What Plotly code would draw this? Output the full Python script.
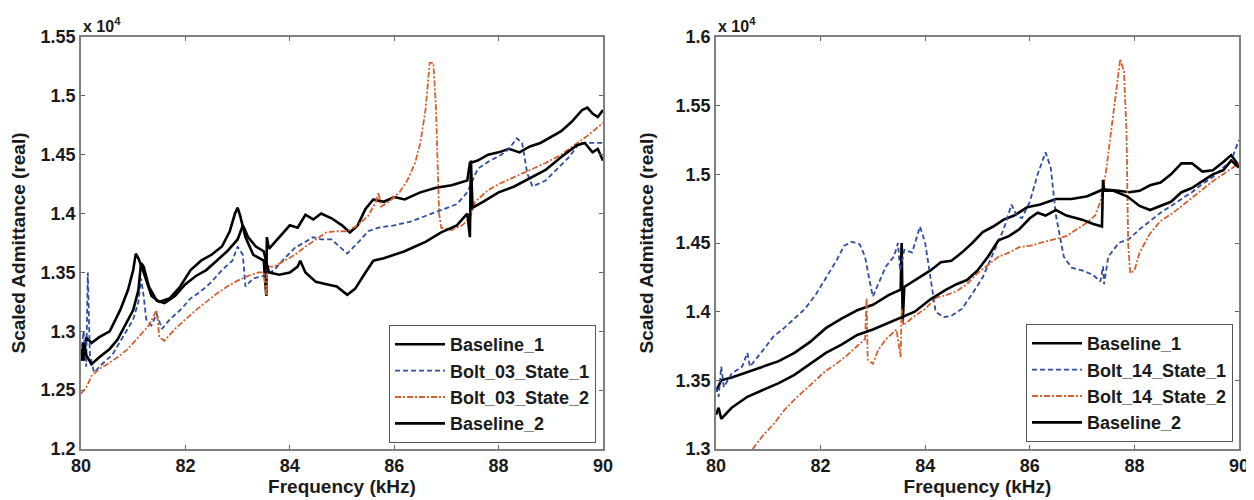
import plotly.graph_objects as go

# ---------------- Left panel (Bolt 03) : values in units of 1e4 ----------------
L_b1_f = [80.0, 80.05, 80.1, 80.2, 80.35, 80.55, 80.75, 80.9, 81.0, 81.05, 81.1, 81.2, 81.35, 81.5,
          81.7, 81.9, 82.1, 82.3, 82.5, 82.7, 82.85, 82.95, 83.0, 83.05, 83.15, 83.3, 83.5, 83.55,
          83.56, 83.6, 83.8, 84.0, 84.15, 84.3, 84.45, 84.6, 84.8, 85.0, 85.15, 85.3, 85.45, 85.6,
          85.8, 86.0, 86.2, 86.5, 86.8, 87.1, 87.4, 87.45, 87.6, 87.8, 88.0, 88.2, 88.4, 88.6, 88.8,
          89.0, 89.2, 89.4, 89.6, 89.7, 89.8, 89.9, 90.0]
L_b1_v = [1.285, 1.275, 1.295, 1.29, 1.295, 1.30, 1.318, 1.335, 1.352, 1.366, 1.362, 1.35, 1.33, 1.325,
          1.328, 1.338, 1.352, 1.36, 1.365, 1.372, 1.385, 1.40, 1.405, 1.398, 1.38, 1.365, 1.36, 1.33,
          1.38, 1.37, 1.38, 1.39, 1.388, 1.399, 1.395, 1.40, 1.396, 1.39, 1.384, 1.39, 1.404, 1.412,
          1.41, 1.414, 1.412, 1.418, 1.422, 1.424, 1.428, 1.443, 1.445, 1.45, 1.452, 1.455, 1.452, 1.457, 1.46,
          1.465, 1.47, 1.478, 1.488, 1.49, 1.485, 1.482, 1.488]

L_s1_f = [80.0, 80.05, 80.1, 80.13, 80.17, 80.25, 80.4, 80.6, 80.8, 81.0, 81.1, 81.15, 81.2, 81.25,
          81.35, 81.45, 81.55, 81.7, 81.9, 82.1, 82.3, 82.5, 82.7, 82.9, 83.0, 83.1, 83.15, 83.3,
          83.5, 83.7, 83.9, 84.1, 84.3, 84.45, 84.6, 84.8, 85.0, 85.1, 85.3, 85.5, 85.7, 86.0, 86.3,
          86.6, 86.9, 87.2, 87.4, 87.6, 87.8, 88.05, 88.2, 88.35, 88.45, 88.55, 88.65, 88.9, 89.1,
          89.35, 89.55, 89.8, 90.0]
L_s1_v = [1.28, 1.30, 1.27, 1.35, 1.28, 1.265, 1.272, 1.28, 1.295, 1.31, 1.325, 1.345, 1.33, 1.31,
          1.305, 1.315, 1.302, 1.31, 1.318, 1.328, 1.334, 1.342, 1.352, 1.36, 1.372, 1.365, 1.338, 1.345,
          1.347, 1.352, 1.362, 1.371, 1.376, 1.38, 1.378, 1.378, 1.37, 1.366, 1.375, 1.385, 1.388, 1.39, 1.393,
          1.398, 1.403, 1.408, 1.418, 1.438, 1.444, 1.45, 1.455, 1.464, 1.46, 1.434, 1.423, 1.428, 1.437,
          1.448, 1.46, 1.46, 1.46]

L_s2_f = [80.0, 80.1, 80.2, 80.35, 80.5, 80.7, 80.9, 81.1, 81.3, 81.45, 81.5, 81.6, 81.8, 82.0, 82.2,
          82.4, 82.6, 82.8, 83.0, 83.2, 83.4, 83.5, 83.55, 83.57, 83.7, 83.9, 84.1, 84.3, 84.5, 84.7,
          84.9, 85.1, 85.3, 85.5, 85.65, 85.7, 85.75, 85.9, 86.1, 86.25, 86.4, 86.5, 86.6, 86.68, 86.75,
          86.8, 86.86, 86.9, 87.1, 87.3, 87.45, 87.55, 87.8, 88.0, 88.3, 88.6, 88.9, 89.2, 89.5, 89.7, 90.0]
L_s2_v = [1.247, 1.252, 1.262, 1.268, 1.272, 1.278, 1.285, 1.295, 1.305, 1.318, 1.295, 1.292, 1.302, 1.31, 1.318,
          1.325, 1.332, 1.338, 1.343, 1.347, 1.35, 1.35, 1.33, 1.355, 1.355, 1.36, 1.365, 1.372, 1.378, 1.384,
          1.385, 1.385, 1.39, 1.398, 1.41, 1.418, 1.406, 1.41, 1.418, 1.428, 1.443, 1.46, 1.488, 1.528, 1.528,
          1.49, 1.40, 1.388, 1.386, 1.39, 1.396, 1.41, 1.42, 1.425, 1.431, 1.437, 1.443, 1.45, 1.46, 1.466, 1.477]

L_b2_f = [80.0, 80.05, 80.1, 80.2, 80.35, 80.55, 80.7, 80.85, 81.0, 81.1, 81.15, 81.2, 81.3, 81.45,
          81.6, 81.8, 82.0, 82.2, 82.4, 82.6, 82.8, 83.0, 83.1, 83.2, 83.35, 83.5, 83.6, 83.8, 84.0,
          84.15, 84.2, 84.3, 84.5, 84.7, 84.9, 85.1, 85.25, 85.45, 85.6, 85.8, 86.0, 86.2, 86.4, 86.6,
          86.9, 87.2, 87.4, 87.45, 87.47, 87.5, 87.7, 88.0, 88.3, 88.6, 88.9, 89.2, 89.5, 89.65, 89.8,
          89.9, 90.0]
L_b2_v = [1.275, 1.29, 1.28, 1.272, 1.278, 1.285, 1.293, 1.305, 1.318, 1.335, 1.358, 1.355, 1.338, 1.326,
          1.324, 1.33, 1.34, 1.347, 1.352, 1.36, 1.368, 1.378, 1.39, 1.38, 1.372, 1.368, 1.35, 1.348, 1.35,
          1.355, 1.36, 1.35, 1.342, 1.34, 1.338, 1.331, 1.336, 1.35, 1.36, 1.362, 1.365, 1.368, 1.372, 1.376,
          1.384, 1.39, 1.40, 1.38, 1.445, 1.405, 1.41, 1.418, 1.423, 1.43, 1.437, 1.448, 1.458, 1.46, 1.452,
          1.455, 1.445]

# ---------------- Right panel (Bolt 14) ----------------
R_b1_f = [80.0, 80.1, 80.3, 80.6, 80.9, 81.2, 81.5, 81.8, 82.1, 82.4, 82.7, 83.0, 83.3, 83.53, 83.55,
          83.57, 83.6, 83.9, 84.1, 84.3, 84.5, 84.7, 84.9, 85.1, 85.3, 85.5, 85.7, 85.95, 86.2, 86.5,
          86.8, 87.1, 87.4, 87.7, 87.9, 88.1, 88.3, 88.5, 88.7, 88.9, 89.1, 89.3, 89.5, 89.7, 89.85, 90.0]
R_b1_v = [1.342, 1.35, 1.352, 1.356, 1.36, 1.364, 1.37, 1.378, 1.388, 1.395, 1.401, 1.405, 1.412, 1.416, 1.45,
          1.392, 1.418, 1.425, 1.43, 1.436, 1.437, 1.443, 1.45, 1.458, 1.462, 1.467, 1.47, 1.476, 1.478, 1.482,
          1.482, 1.484, 1.489, 1.488, 1.487, 1.488, 1.492, 1.494, 1.50, 1.508, 1.508, 1.502, 1.503, 1.509, 1.514, 1.506]

R_s1_f = [80.0, 80.05, 80.1, 80.15, 80.3, 80.5, 80.6, 80.65, 80.9, 81.1, 81.3, 81.5, 81.7, 81.9, 82.1,
          82.3, 82.45, 82.6, 82.75, 82.85, 82.95, 83.0, 83.1, 83.25, 83.4, 83.48, 83.52, 83.6, 83.75,
          83.9, 84.0, 84.1, 84.2, 84.35, 84.5, 84.7, 84.9, 85.1, 85.3, 85.5, 85.65, 85.75, 85.85, 86.0,
          86.15, 86.3, 86.4, 86.5, 86.65, 86.8, 87.0, 87.2, 87.35, 87.4, 87.42, 87.5, 87.7, 87.9, 88.1,
          88.3, 88.5, 88.7, 88.9, 89.1, 89.3, 89.5, 89.7, 89.85, 90.0]
R_s1_v = [1.345, 1.338, 1.36, 1.345, 1.355, 1.36, 1.37, 1.36, 1.372, 1.382, 1.388, 1.395, 1.402, 1.412, 1.425,
          1.437, 1.448, 1.451, 1.449, 1.44, 1.42, 1.411, 1.42, 1.433, 1.44, 1.45, 1.43, 1.445, 1.443,
          1.462, 1.45, 1.425, 1.40, 1.396, 1.397, 1.402, 1.413, 1.425, 1.443, 1.46, 1.478, 1.47, 1.468, 1.48,
          1.50, 1.516, 1.505, 1.47, 1.44, 1.432, 1.43, 1.427, 1.422, 1.433, 1.42, 1.44, 1.45, 1.453, 1.46,
          1.466, 1.472, 1.477, 1.482, 1.487, 1.493, 1.498, 1.505, 1.51, 1.525]

R_s2_f = [80.7, 80.9, 81.1, 81.3, 81.5, 81.7, 81.9, 82.1, 82.3, 82.5, 82.7, 82.85, 82.88, 82.9, 83.0,
          83.1, 83.25, 83.45, 83.53, 83.55, 83.58, 83.8, 84.0, 84.2, 84.4, 84.6, 84.8, 85.0, 85.2, 85.4,
          85.6, 85.8, 86.0, 86.2, 86.45, 86.7, 86.9, 87.1, 87.25, 87.35, 87.45, 87.55, 87.65, 87.73, 87.8,
          87.85, 87.88, 87.92, 88.0, 88.1, 88.3, 88.5, 88.74, 89.0, 89.25, 89.5, 89.77, 90.0]
R_s2_v = [1.30, 1.31, 1.318, 1.328, 1.336, 1.343, 1.35, 1.357, 1.362, 1.368, 1.375, 1.38, 1.41, 1.365, 1.362,
          1.372, 1.38, 1.387, 1.367, 1.402, 1.39, 1.397, 1.402, 1.41, 1.412, 1.415, 1.42, 1.428, 1.434, 1.44,
          1.443, 1.447, 1.448, 1.45, 1.452, 1.455, 1.46, 1.465, 1.47, 1.48, 1.50, 1.53, 1.56, 1.584, 1.575,
          1.53, 1.45, 1.428, 1.43, 1.443, 1.457, 1.466, 1.472, 1.48, 1.487, 1.495, 1.502, 1.508]

R_b2_f = [80.0, 80.05, 80.1, 80.3, 80.6, 80.9, 81.2, 81.5, 81.8, 82.1, 82.4, 82.7, 83.0, 83.3, 83.55,
          83.8, 84.1, 84.4, 84.6, 84.8, 85.0, 85.2, 85.4, 85.6, 85.8, 86.0, 86.15, 86.3, 86.5, 86.7,
          87.0, 87.2, 87.38, 87.4, 87.42, 87.6, 87.86, 88.1, 88.3, 88.5, 88.7, 88.9, 89.1, 89.3, 89.5,
          89.7, 89.85, 90.0]
R_b2_v = [1.325, 1.33, 1.322, 1.33, 1.338, 1.343, 1.348, 1.354, 1.362, 1.37, 1.376, 1.383, 1.387, 1.392, 1.396,
          1.40, 1.409, 1.416, 1.42, 1.423, 1.43, 1.44, 1.452, 1.455, 1.46, 1.468, 1.472, 1.47, 1.474, 1.47,
          1.467, 1.464, 1.462, 1.496, 1.488, 1.488, 1.484, 1.477, 1.474, 1.477, 1.48, 1.487, 1.49, 1.495, 1.50,
          1.503, 1.51, 1.505]

names_left = ["Baseline_1", "Bolt_03_State_1", "Bolt_03_State_2", "Baseline_2"]
names_right = ["Baseline_1", "Bolt_14_State_1", "Bolt_14_State_2", "Baseline_2"]

x_ticks = [80, 82, 84, 86, 88, 90]
yl_ticks = [1.2, 1.25, 1.3, 1.35, 1.4, 1.45, 1.5, 1.55]
yr_ticks = [1.3, 1.35, 1.4, 1.45, 1.5, 1.55, 1.6]

BLACK = "#000000"
BLUE = "#2f4c9e"
ORANGE = "#d2612f"
styles = [
    dict(color=BLACK, width=2.6, dash="solid"),
    dict(color=BLUE, width=1.8, dash="5px,3px"),
    dict(color=ORANGE, width=1.8, dash="6px,2px,2px,2px"),
    dict(color=BLACK, width=2.6, dash="solid"),
]

fig = go.Figure()
left_data = [(L_b1_f, L_b1_v), (L_s1_f, L_s1_v), (L_s2_f, L_s2_v), (L_b2_f, L_b2_v)]
right_data = [(R_b1_f, R_b1_v), (R_s1_f, R_s1_v), (R_s2_f, R_s2_v), (R_b2_f, R_b2_v)]
for (f, v), nm, st in zip(left_data, names_left, styles):
    fig.add_trace(go.Scatter(x=f, y=v, mode="lines", name=nm, line=st,
                             xaxis="x", yaxis="y", legend="legend"))
for (f, v), nm, st in zip(right_data, names_right, styles):
    fig.add_trace(go.Scatter(x=f, y=v, mode="lines", name=nm, line=st,
                             xaxis="x2", yaxis="y2", legend="legend2"))

FONT = "Arial, Liberation Sans, sans-serif"
tickfont = dict(family=FONT, size=18, color="#1a1a1a", weight="bold")
titlefont = dict(family=FONT, size=19, color="#1a1a1a", weight="bold")
legfont = dict(family=FONT, size=18, color="#1a1a1a", weight="bold")
ax_common = dict(showgrid=False, zeroline=False, showline=True, linecolor="#808080", linewidth=1.5,
                 mirror="ticks", ticks="inside", ticklen=4, tickcolor="#606060", tickwidth=1,
                 tickfont=tickfont, automargin=False)

# The page body has an 8px default margin: lay out in screen pixels minus that offset.
OFF = 8
W, H = 1254 - OFF, 500 - OFF


def px_x(sx):
    return (sx - OFF) / W


def px_y(sy):
    return 1 - (sy - OFF) / H


xl = [px_x(81), px_x(603)]
xr = [px_x(716), px_x(1239)]
yd = [px_y(449), px_y(37)]

fig.update_layout(
    width=W, height=H, margin=dict(l=0, r=0, t=0, b=0, autoexpand=False),
    paper_bgcolor="white", plot_bgcolor="white",
    xaxis=dict(domain=xl, range=[80, 90], tickvals=x_ticks, anchor="y",
               title=dict(text="Frequency (kHz)", font=titlefont, standoff=2), **ax_common),
    yaxis=dict(domain=yd, range=[1.2, 1.55], tickvals=yl_ticks, anchor="x",
               title=dict(text="Scaled Admittance (real)", font=titlefont, standoff=17), **ax_common),
    xaxis2=dict(domain=xr, range=[80, 90], tickvals=x_ticks, anchor="y2",
                title=dict(text="Frequency (kHz)", font=titlefont, standoff=2), **ax_common),
    yaxis2=dict(domain=yd, range=[1.3, 1.6], tickvals=yr_ticks, anchor="x2",
                title=dict(text="Scaled Admittance (real)", font=titlefont, standoff=17), **ax_common),
    legend=dict(x=px_x(596), y=px_y(443), xanchor="right", yanchor="bottom",
                bgcolor="white", bordercolor="#555555", borderwidth=1,
                font=legfont, tracegroupgap=0, itemwidth=50),
    legend2=dict(x=px_x(1233), y=px_y(442), xanchor="right", yanchor="bottom",
                 bgcolor="white", bordercolor="#555555", borderwidth=1,
                 font=legfont, tracegroupgap=0, itemwidth=50),
    showlegend=True,
)

fig.add_annotation(x=0, y=1.0, xref="x domain", yref="y domain",
                   text="x 10<sup>4</sup>", showarrow=False, xanchor="left", yanchor="bottom",
                   yshift=0, font=dict(family=FONT, size=16, color="#1a1a1a", weight="bold"))
fig.add_annotation(x=0, y=1.0, xref="x2 domain", yref="y2 domain",
                   text="x 10<sup>4</sup>", showarrow=False, xanchor="left", yanchor="bottom",
                   yshift=0, font=dict(family=FONT, size=16, color="#1a1a1a", weight="bold"))

fig.write_html("out.html")
